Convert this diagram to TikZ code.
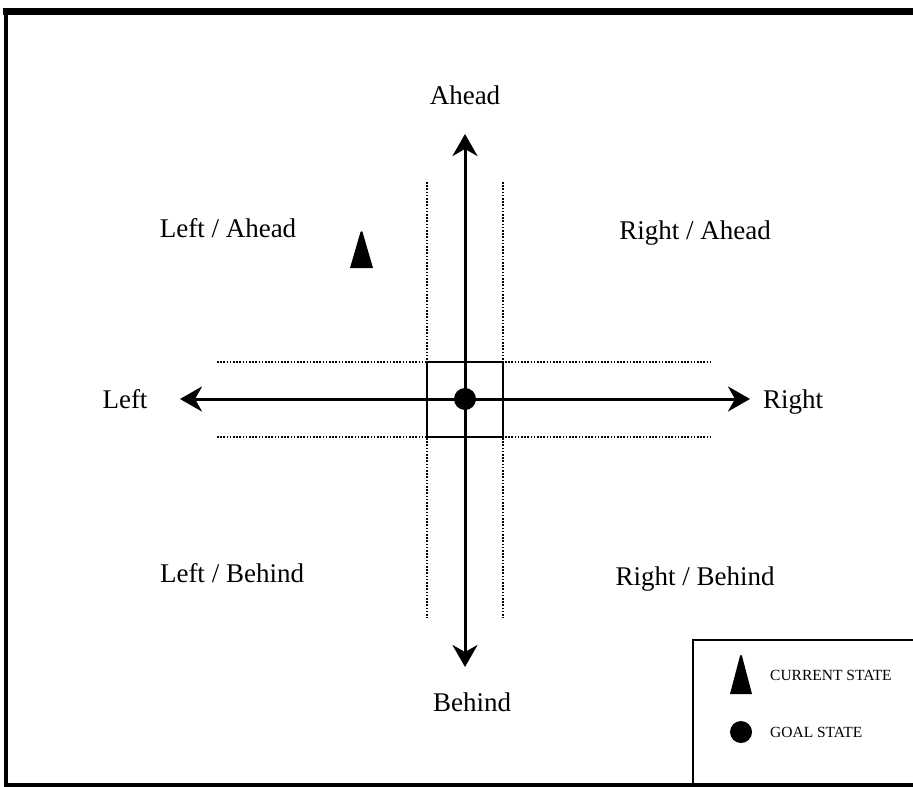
\documentclass[tikz,border=0pt]{standalone}
\usepackage{fontspec}
\setmainfont{Liberation Serif}
\usetikzlibrary{arrows.meta}
\begin{document}
\begin{tikzpicture}[x=1pt,y=-1pt,
  lbl/.style={font=\fontsize{27}{31}\selectfont, inner sep=0pt, text height=20pt, text depth=4pt},
  leg/.style={font=\fontsize{15.5}{18}\selectfont, inner sep=0pt, anchor=west, text height=10pt, text depth=2pt},
  axis/.style={line width=3pt, -{Stealth[length=22pt,width=25pt,inset=7pt]}},
  dots/.style={line width=2.8pt, dash pattern=on 1.6pt off 1.6pt},
  trishape/.style={fill=black},
]
\useasboundingbox (0,0) rectangle (913,787);
% frame
\draw[line width=7pt] (913,11.5) -- (3,11.5);
\draw[line width=4.5pt] (6,9) -- (6,787);
\draw[line width=4.5pt] (4,785) -- (913,785);
% legend box
\draw[line width=2.4pt] (913,640) -- (693,640) -- (693,785);
% coordinates
\coordinate (c) at (465,399);
\coordinate (up) at (465,134);
\coordinate (down) at (465,667);
\coordinate (lt) at (180,399);
\coordinate (rt) at (750,399);
% dotted guides
\coordinate (v1a) at (427,182); \coordinate (v1b) at (427,618);
\coordinate (v2a) at (503,182); \coordinate (v2b) at (503,618);
\coordinate (h1a) at (217,362); \coordinate (h1b) at (710,362);
\coordinate (h2a) at (217,437); \coordinate (h2b) at (710,437);
\draw[dots] (v1a) -- (v1b);
\draw[dots] (v2a) -- (v2b);
\draw[dots] (h1a) -- (h1b);
\draw[dots] (h2a) -- (h2b);
% central square
\draw[line width=2.8pt, fill=white] (427,362) rectangle (503,437);
% axes
\draw[axis] (c) -- (up);
\draw[axis] (c) -- (down);
\draw[axis] (c) -- (lt);
\draw[axis] (c) -- (rt);
\fill (c) circle (11);
% labels
\node[lbl] (ahead) at (465,96) {Ahead};
\node[lbl] (behind) at (472,703) {Behind};
\node[lbl] (left) at (125,400) {Left};
\node[lbl] (right) at (793,400) {Right};
\node[lbl] (la) at (228,229) {Left / Ahead};
\node[lbl] (ra) at (695,231) {Right / Ahead};
\node[lbl] (lb) at (232,574) {Left / Behind};
\node[lbl] (rb) at (695,577) {Right / Behind};
% current state marker
\fill[trishape] (350,268) -- (360.5,232) .. controls (361,231) and (362,231) .. (362.5,232) -- (373,268) -- cycle;
% legend
\fill[trishape] (730,694) -- (740,656) .. controls (740.5,654.5) and (741.5,654.5) .. (742,656) -- (752,694) -- cycle;
\fill (741,732) circle (11);
\node[leg] (cur) at (770,676) {CURRENT STATE};
\node[leg] (goal) at (770,733) {GOAL STATE};
\end{tikzpicture}
\end{document}
